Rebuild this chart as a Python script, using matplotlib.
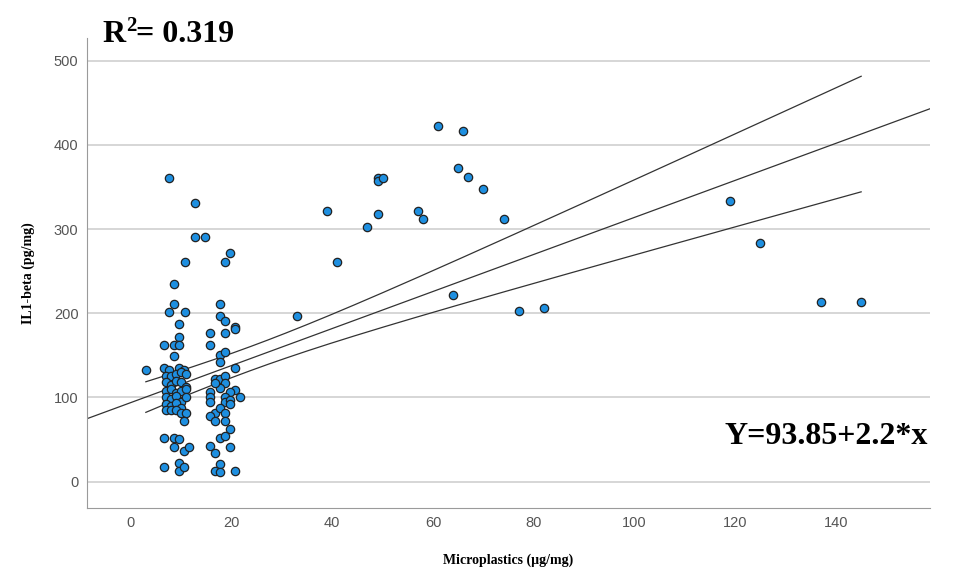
import numpy as np
import matplotlib.pyplot as plt

# data (x = microplastics, y = IL1-beta)
mp_sparse = [3, 33, 39, 41, 47, 49, 49, 49, 50, 57, 58, 61, 64, 65, 66, 67, 70, 74, 77, 82,
             119, 125, 137, 145]
il_sparse = [132, 197, 322, 261, 302, 318, 361, 357, 361, 322, 312, 423, 222, 372, 417, 362,
             347, 312, 203, 206, 333, 283, 213, 213]

mp_left = [7.6, 12.7, 12.7, 14.7, 10.7, 8.6, 8.6, 7.6, 10.7, 9.6, 9.6, 6.6, 8.6, 9.6, 8.6,
           6.6, 9.6, 10.6, 7.6,
           7, 8, 9, 10, 11, 7, 8, 9, 10, 11, 7, 8, 9, 10, 11, 7, 8, 9, 10, 11,
           7, 8, 9, 10, 7, 8, 9, 10, 11, 10.6,
           6.6, 8.6, 9.6, 8.6, 10.6, 11.6, 6.6, 9.6, 9.6, 10.6]
il_left = [361, 331, 291, 291, 261, 235, 211, 201, 201, 187, 172, 162, 162, 162, 149,
           135, 135, 132, 132,
           125, 125, 128, 130, 128, 118, 115, 120, 118, 112, 108, 110, 105, 108, 110,
           100, 98, 102, 95, 100, 92, 90, 93, 88, 85, 85, 85, 82, 82, 72,
           52, 52, 51, 41, 36, 41, 17, 22, 13, 17]

mp_right = [19.7, 18.7, 17.7, 17.7, 18.7, 20.7, 15.7, 18.7, 20.7, 15.7, 17.7, 18.7, 17.7,
            20.7, 16.7, 17.7, 18.7, 18.7, 17.7, 16.7, 20.7, 19.7, 15.7, 15.7, 15.7, 18.7,
            18.7, 19.7, 21.7, 19.7, 16.7, 17.7, 15.7, 18.7, 16.7, 18.7, 19.7, 17.7, 18.7,
            15.7, 16.7, 19.7, 17.7, 16.7, 17.7, 20.7]
il_right = [271, 261, 211, 197, 191, 184, 176, 176, 181, 162, 151, 154, 142,
            135, 122, 122, 125, 117, 111, 117, 109, 107, 107, 101, 95, 101,
            95, 97, 101, 92, 82, 87, 78, 82, 72, 72, 62, 52, 54,
            42, 34, 41, 21, 13, 12, 13]

x = np.array(mp_sparse + mp_left + mp_right, dtype=float)
y = np.array(il_sparse + il_left + il_right, dtype=float)

b0, b1 = 93.85, 2.2
r2_text = "0.319"

plt.rcParams['font.family'] = ['Liberation Sans', 'DejaVu Sans']
serif = ['Liberation Serif', 'DejaVu Serif']

fig = plt.figure(figsize=(9.55, 5.75), dpi=100)
ax = fig.add_axes([0.091, 0.117, 0.883, 0.817])

ax.set_xlim(-8.7, 158.7)
ax.set_ylim(-31, 527)
ax.set_xticks(range(0, 141, 20))
ax.set_yticks(range(0, 501, 100))
ax.grid(axis='y', color='#d0d0d0', linewidth=1.2)
ax.set_axisbelow(True)
for s in ['top', 'right']:
    ax.spines[s].set_visible(False)
for s in ['left', 'bottom']:
    ax.spines[s].set_color('#9a9a9a')
ax.tick_params(length=0, labelsize=10.5, labelcolor='#555555', pad=6)

# fit line + 95% mean confidence band
xs = np.linspace(-8.7, 158.7, 200)
ax.plot(xs, b0 + b1 * xs, color='#333333', linewidth=0.9, zorder=2)
n = len(x)
resid = y - (b0 + b1 * x)
s = np.sqrt(np.sum(resid ** 2) / (n - 2))
sxx = np.sum((x - x.mean()) ** 2)
xb = np.linspace(x.min(), x.max(), 200)
half = 1.976 * s * np.sqrt(1 / n + (xb - x.mean()) ** 2 / sxx)
ax.plot(xb, b0 + b1 * xb + half, color='#333333', linewidth=0.9, zorder=2)
ax.plot(xb, b0 + b1 * xb - half, color='#333333', linewidth=0.9, zorder=2)

ax.scatter(x, y, s=36, color='#1e8fe0', edgecolors='#222222', linewidths=0.9, zorder=3)

ax.set_xlabel('Microplastics (\u00b5g/mg)', family=serif,
              fontsize=10, fontweight='bold', labelpad=17)
ax.set_ylabel('IL1-beta (pg/mg)', family=serif,
              fontsize=10, fontweight='bold', labelpad=14)

# R^2 label built from plain text pieces
t_r = fig.text(0.107, 0.94, 'R', family=serif, fontsize=23, fontweight='bold',
               va='center', ha='left')
ax.annotate('2', xy=(1, 1), xycoords=t_r, xytext=(0.5, 3), textcoords='offset points',
            family=serif, fontsize=15, fontweight='bold', va='top', ha='left')
ax.annotate('= ' + r2_text, xy=(1, 0.5), xycoords=t_r, xytext=(7.5, 0),
            textcoords='offset points', family=serif, fontsize=23, fontweight='bold',
            va='center', ha='left')

fig.text(0.972, 0.24, 'Y=%.2f+%.1f*x' % (b0, b1), family=serif,
         fontsize=23, fontweight='bold', va='center', ha='right')

fig.savefig('out.png', dpi=100)
